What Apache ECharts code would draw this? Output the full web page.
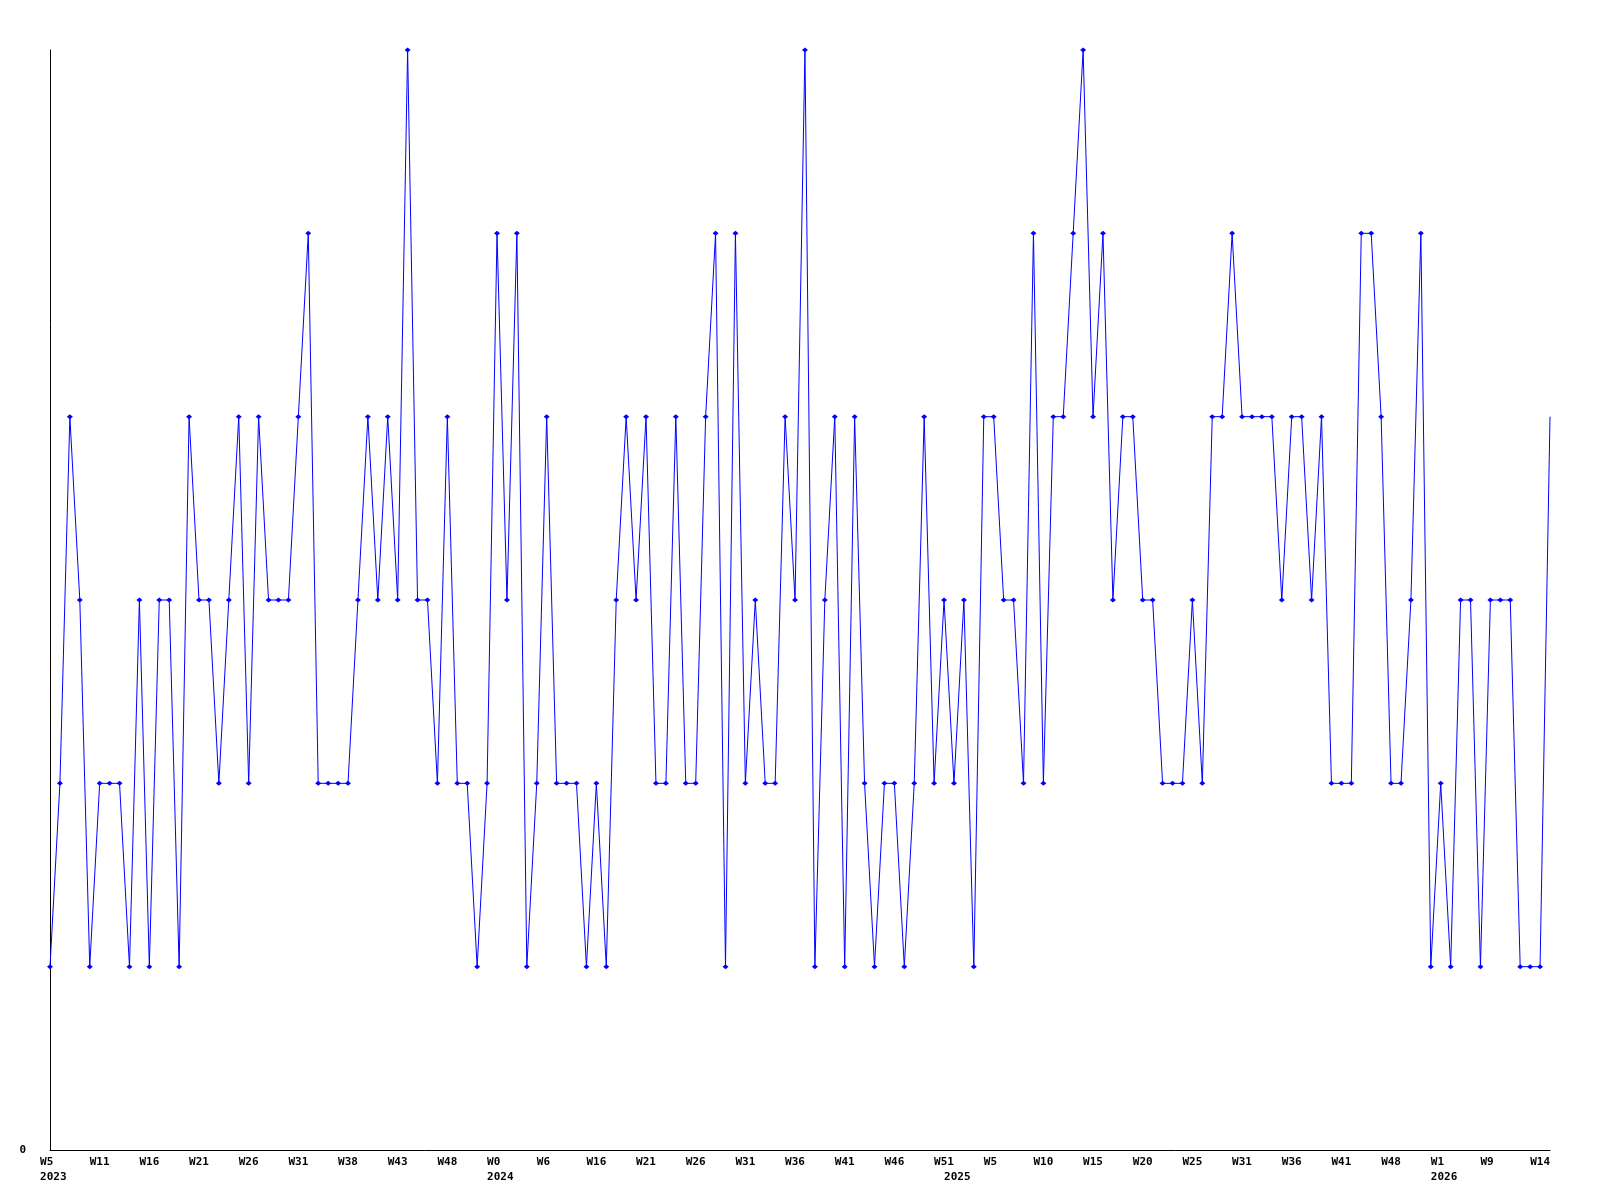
<!DOCTYPE html>
<html>
<head>
<meta charset="utf-8">
<script src="https://cdn.jsdelivr.net/npm/echarts@6/dist/echarts.min.js"></script>
<style>
  html, body { margin: 0; padding: 0; background: #fff; }
  #chart { width: 1600px; height: 1200px; }
</style>
</head>
<body>
<div id="chart"></div>
<script>
// one value per point (levels 1..6)
const values = [
  1, 2, 4, 3, 1, 2, 2, 2, 1, 3,
  1, 3, 3, 1, 4, 3, 3, 2, 3, 4,
  2, 4, 3, 3, 3, 4, 5, 2, 2, 2,
  2, 3, 4, 3, 4, 3, 6, 3, 3, 2,
  4, 2, 2, 1, 2, 5, 3, 5, 1, 2,
  4, 2, 2, 2, 1, 2, 1, 3, 4, 3,
  4, 2, 2, 4, 2, 2, 4, 5, 1, 5,
  2, 3, 2, 2, 4, 3, 6, 1, 3, 4,
  1, 4, 2, 1, 2, 2, 1, 2, 4, 2,
  3, 2, 3, 1, 4, 4, 3, 3, 2, 5,
  2, 4, 4, 5, 6, 4, 5, 3, 4, 4,
  3, 3, 2, 2, 2, 3, 2, 4, 4, 5,
  4, 4, 4, 4, 3, 4, 4, 3, 4, 2,
  2, 2, 5, 5, 4, 2, 2, 3, 5, 1,
  2, 1, 3, 3, 1, 3, 3, 3, 1, 1,
  1, 4
];

// week labels, one every 5 points
const tickLabels = [
  'W5', 'W11', 'W16', 'W21', 'W26', 'W31', 'W38', 'W43', 'W48',
  'W0', 'W6', 'W16', 'W21', 'W26', 'W31', 'W36', 'W41', 'W46', 'W51',
  'W5', 'W10', 'W15', 'W20', 'W25', 'W31', 'W36', 'W41', 'W48',
  'W1', 'W9', 'W14'
];
const tickStep = 5;

// year label at the point where the year starts
const yearIndex = [0, 45, 91, 140];
const yearNames = ['2023', '2024', '2025', '2026'];

const categories = values.map((v, i) => String(i));

const labelFont = {
  fontFamily: 'DejaVu Sans Mono',
  fontSize: 11,
  fontWeight: 'bold',
  color: '#000'
};

// pad to 3 chars so short labels start at the same place as long ones
const pad3 = s => (s + '   ').slice(0, Math.max(3, s.length));

const formatLabel = (value, index) => {
  let s = '';
  if (index % tickStep === 0 && tickLabels[index / tickStep]) {
    s = pad3(tickLabels[index / tickStep]);
  }
  const y = yearIndex.indexOf(index);
  if (y >= 0) s += '\n ' + yearNames[y];
  return s;
};

const chart = echarts.init(document.getElementById('chart'));

chart.setOption({
  animation: false,
  backgroundColor: '#fff',
  grid: {
    left: 50, right: 50, top: 50, bottom: 50,
    containLabel: false,
    outerBoundsMode: 'none'
  },
  xAxis: {
    type: 'category',
    data: categories,
    boundaryGap: false,
    axisLine: { show: true, lineStyle: { color: '#000', width: 1 } },
    axisTick: { show: false },
    splitLine: { show: false },
    axisLabel: Object.assign({
      interval: (index) => index % tickStep === 0 || yearIndex.indexOf(index) >= 0,
      formatter: formatLabel,
      margin: 5,
      lineHeight: 15,
      align: 'center',
      verticalAlign: 'top'
    }, labelFont)
  },
  yAxis: {
    type: 'value',
    min: 0,
    max: 6,
    interval: 6,
    axisLine: { show: true, lineStyle: { color: '#000', width: 1 } },
    axisTick: { show: false },
    splitLine: { show: false },
    axisLabel: Object.assign({
      margin: 24,
      formatter: v => (v === 0 ? '0' : '')
    }, labelFont)
  },
  series: [{
    type: 'line',
    data: values.map((v, i) => i === values.length - 1 ? { value: v, symbol: 'none' } : v),
    symbol: 'diamond',
    symbolSize: [6, 5],
    showAllSymbol: true,
    lineStyle: { color: '#0000ff', width: 1 },
    itemStyle: { color: '#0000ff', borderWidth: 0 },
    emphasis: { disabled: true }
  }]
});
</script>
</body>
</html>
